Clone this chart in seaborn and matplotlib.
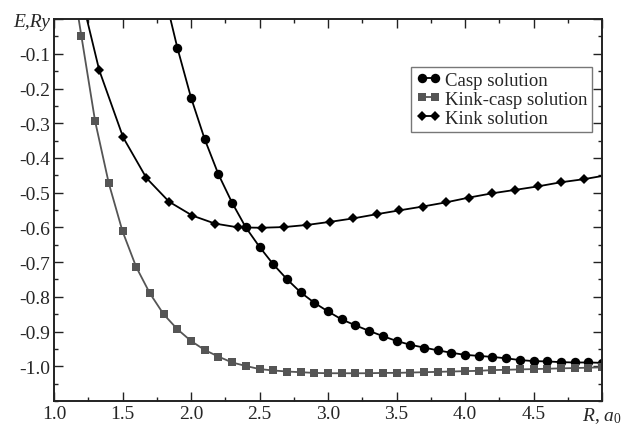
import matplotlib
matplotlib.use('Agg')
import matplotlib.pyplot as plt
from matplotlib.lines import Line2D
from matplotlib.ticker import MultipleLocator
import seaborn as sns
import pandas as pd

# Casp solution (first point is where the curve leaves the top edge)
casp_r = [1.85, 1.9, 2.0, 2.1, 2.2, 2.3, 2.4, 2.5, 2.6, 2.7, 2.8, 2.9,
          3.0, 3.1, 3.2, 3.3, 3.4, 3.5, 3.6, 3.7, 3.8, 3.9,
          4.0, 4.1, 4.2, 4.3, 4.4, 4.5, 4.6, 4.7, 4.8, 4.9, 5.0]
casp_e = [0.0, -0.082, -0.226, -0.346, -0.447, -0.529, -0.600, -0.656, -0.706, -0.749, -0.787, -0.817,
          -0.842, -0.865, -0.882, -0.898, -0.913, -0.927, -0.938, -0.946, -0.954, -0.961,
          -0.967, -0.970, -0.973, -0.977, -0.982, -0.985, -0.986, -0.988, -0.989, -0.989, -0.990]

# Kink-casp solution
kc_r = [1.18, 1.2, 1.3, 1.4, 1.5, 1.6, 1.7, 1.8, 1.9, 2.0, 2.1, 2.2, 2.3, 2.4, 2.5, 2.6, 2.7, 2.8, 2.9,
        3.0, 3.1, 3.2, 3.3, 3.4, 3.5, 3.6, 3.7, 3.8, 3.9,
        4.0, 4.1, 4.2, 4.3, 4.4, 4.5, 4.6, 4.7, 4.8, 4.9, 5.0]
kc_e = [0.0, -0.049, -0.294, -0.473, -0.611, -0.714, -0.790, -0.850, -0.893, -0.927, -0.953, -0.972,
        -0.989, -0.999, -1.008, -1.012, -1.015, -1.017, -1.019,
        -1.020, -1.020, -1.020, -1.020, -1.019, -1.019, -1.018, -1.017, -1.016, -1.015,
        -1.014, -1.013, -1.011, -1.010, -1.009, -1.008, -1.007, -1.006, -1.005, -1.004, -1.003]

# Kink solution (first and last points are the curve at the frame edges)
kink_r = [1.24, 1.33, 1.505, 1.675, 1.84, 2.01, 2.175, 2.345, 2.515, 2.68, 2.845, 3.015,
          3.185, 3.355, 3.52, 3.69, 3.86, 4.03, 4.195, 4.365, 4.53, 4.70, 4.87, 5.0]
kink_e = [0.0, -0.147, -0.341, -0.458, -0.526, -0.566, -0.589, -0.600, -0.601, -0.599, -0.593, -0.584,
          -0.574, -0.562, -0.551, -0.540, -0.528, -0.514, -0.502, -0.492, -0.482, -0.470, -0.461, -0.452]

xtick_vals = [1.0, 1.5, 2.0, 2.5, 3.0, 3.5, 4.0, 4.5, 5.0]
xtick_labels = ["1.0", "1.5", "2.0", "2.5", "3.0", "3.5", "4.0", "4.5", r"$R$, $a_{\mathit{0}}$"]
ytick_vals = [0.0, -0.1, -0.2, -0.3, -0.4, -0.5, -0.6, -0.7, -0.8, -0.9, -1.0]
ytick_labels = ["E,Ry", "-0.1", "-0.2", "-0.3", "-0.4", "-0.5", "-0.6", "-0.7", "-0.8", "-0.9", "-1.0"]

sns.set_style("ticks")
plt.rcParams['font.family'] = ['Liberation Serif', 'DejaVu Serif']
plt.rcParams['mathtext.fontset'] = 'custom'
plt.rcParams['mathtext.rm'] = 'Liberation Serif'
plt.rcParams['mathtext.it'] = 'Liberation Serif:italic'

gray = '#555555'
series = [
    ("Casp solution", casp_r, casp_e, 'o', 6.8, 'black', slice(1, None)),
    ("Kink-casp solution", kc_r, kc_e, 's', 6.0, gray, slice(1, None)),
    ("Kink solution", kink_r, kink_e, 'D', 4.8, 'black', slice(1, -1)),
]

fig = plt.figure(figsize=(6.25, 4.27), dpi=100)
ax = fig.add_axes([0.0864, 0.0585, 0.8768, 0.8945])

handles = []
for name, r, e, mk, ms, col, every in series:
    df = pd.DataFrame({"R": r, "E": e})
    sns.lineplot(data=df, x="R", y="E", ax=ax, color=col, lw=1.3, marker=mk,
                 markersize=ms, markeredgewidth=0, markevery=every,
                 estimator=None, sort=False)
    handles.append(Line2D([0], [0], color=col, lw=1.3, marker=mk, markersize=ms,
                          markeredgewidth=0, label=name))

ax.set_xlim(1.0, 5.0)
ax.set_ylim(-1.1, 0.0)
ax.set_xticks(xtick_vals)
ax.set_xticklabels(xtick_labels, fontsize=14)
ax.set_yticks(ytick_vals)
ax.set_yticklabels(ytick_labels, fontsize=14)
ax.get_yticklabels()[0].set_fontstyle('italic')
ax.xaxis.set_minor_locator(MultipleLocator(0.25))
ax.yaxis.set_minor_locator(MultipleLocator(0.05))
ax.tick_params(which='both', direction='in', top=True, right=True, color='#222222', width=1.0)
ax.tick_params(which='major', length=6.5, pad=3)
ax.tick_params(which='minor', length=3.2)
ax.set_xlabel("")
ax.set_ylabel("")
for sp in ax.spines.values():
    sp.set_visible(True)
    sp.set_linewidth(1.4)
    sp.set_color('#222222')

leg = ax.legend(handles=handles, loc='upper right', bbox_to_anchor=(0.982, 0.874),
                borderaxespad=0, fontsize=13.5, numpoints=2, handlelength=1.3,
                handletextpad=0.25, labelspacing=0.1, borderpad=0.25,
                fancybox=False, framealpha=1, edgecolor='#777777')
leg.get_frame().set_linewidth(1.0)

fig.savefig("out.png", dpi=100)
